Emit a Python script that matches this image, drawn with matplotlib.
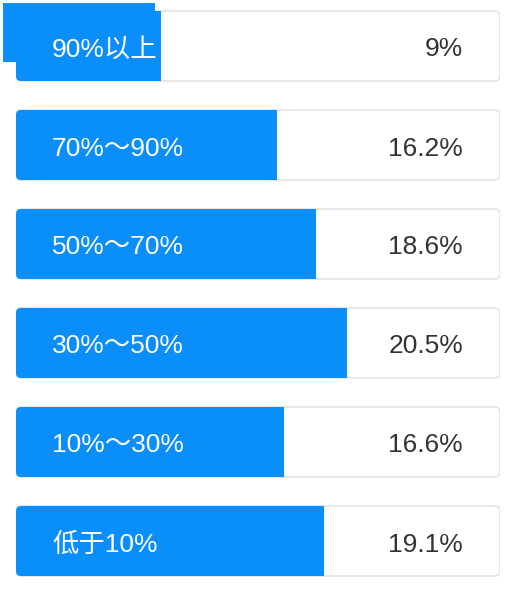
import matplotlib
matplotlib.use("Agg")
import matplotlib.pyplot as plt
from matplotlib.patches import FancyBboxPatch, Rectangle

plt.rcParams['font.family'] = ['Liberation Sans', 'Noto Sans CJK SC', 'DejaVu Sans']

categories = ["90%以上", "70%～90%", "50%～70%", "30%～50%", "10%～30%", "低于10%"]
values = [9, 16.2, 18.6, 20.5, 16.6, 19.1]
value_labels = ["9%", "16.2%", "18.6%", "20.5%", "16.6%", "19.1%"]
full_scale = 30.0

W, H = 510, 592
fig = plt.figure(figsize=(W / 100, H / 100), dpi=100)
fig.patch.set_facecolor("white")
ax = fig.add_axes([16 / W, 0, 484 / W, 1])
ax.set_xlim(0, full_scale)
row_px = 99.0
ax.set_ylim(5 + 51 / row_px, -46 / row_px)
ax.axis("off")

blue = "#0A8EFC"
bar_h = 70 / row_px
px_x = full_scale / 484
px_y = 1 / row_px
r = 5 * px_x
aspect = px_y / px_x

for i, (cat, v, lab) in enumerate(zip(categories, values, value_labels)):
    box = FancyBboxPatch((0, i - bar_h / 2), full_scale, bar_h,
                         boxstyle=f"round,pad=0,rounding_size={r}",
                         mutation_aspect=aspect,
                         facecolor="white", edgecolor="#E3E3E6", linewidth=1.2)
    ax.add_patch(box)
    bars = ax.barh([i], [v], height=bar_h, left=0, color=blue, linewidth=0)
    for b in bars:
        b.set_clip_path(box)
    ax.text(36 * px_x, i + 3.5 * px_y, cat, color="white", fontsize=19,
            ha="left", va="center", zorder=5)
    ax.text(447 * px_x, i + 3.5 * px_y, lab, color="#333333", fontsize=19,
            ha="right", va="center", zorder=5)

# overlay patch at top-left (as in reference)
ax.add_patch(Rectangle((-13 * px_x, -43 * px_y), 152 * px_x, 59 * px_y,
                       facecolor=blue, edgecolor="none", clip_on=False, zorder=4))

fig.savefig("out.png", dpi=100, facecolor="white")
